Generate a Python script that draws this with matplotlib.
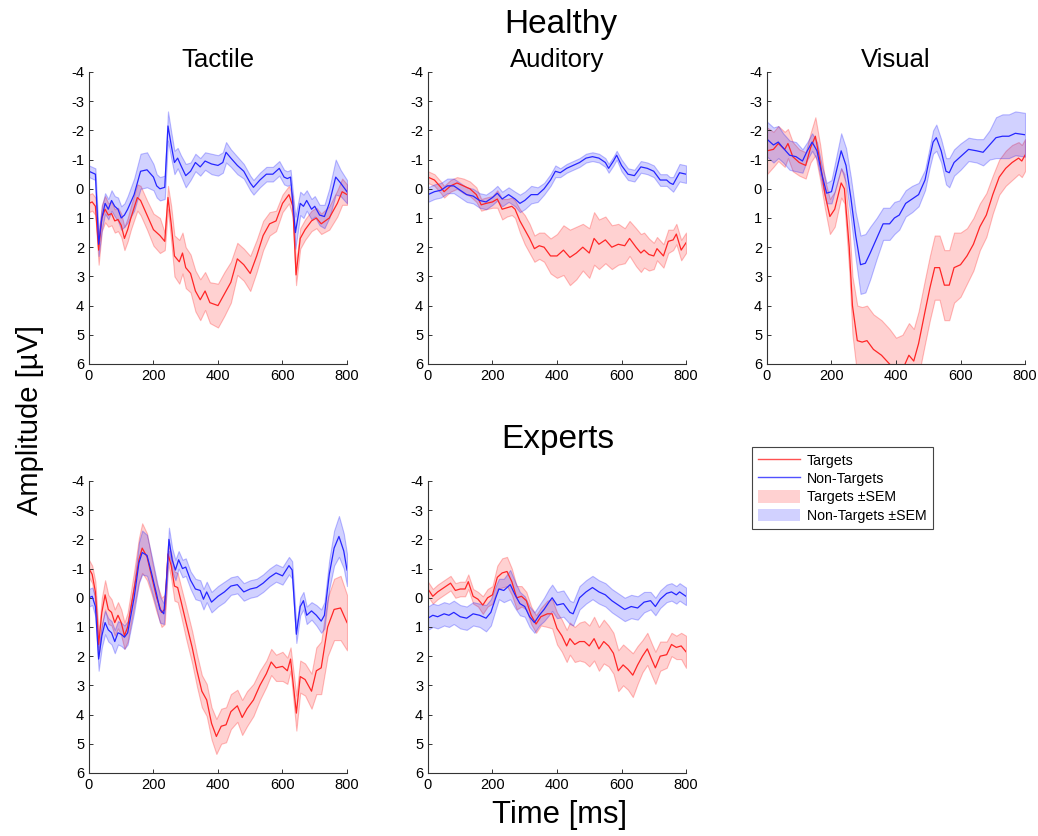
import numpy as np
import matplotlib
matplotlib.use('Agg')
import matplotlib.pyplot as plt
from matplotlib.lines import Line2D
from matplotlib.patches import Patch

plt.rcParams['font.family'] = ['Liberation Sans', 'DejaVu Sans']
plt.rcParams['axes.unicode_minus'] = False

# ---- Healthy / Tactile ----
ht_nt_t = [0, 10, 20, 30, 40, 50, 60, 70, 80, 90,
           100, 110, 120, 140, 160, 180, 200, 210, 220, 235,
           245, 255, 265, 275, 285, 300, 315, 330, 345, 360,
           380, 400, 415, 425, 440, 460, 480, 500, 510, 530,
           550, 570, 590, 605, 615, 625, 640, 655, 665, 675,
           690, 700, 715, 730, 745, 765, 780, 800]
ht_nt_m = [-0.6, -0.55, -0.5, 1.9, 1.0, 0.5, 0.7, 0.4, 0.6, 0.7,
           1.0, 0.9, 0.7, 0.2, -0.6, -0.65, -0.4, -0.1, 0.0, -0.05,
           -2.15, -1.5, -0.9, -1.05, -0.8, -0.45, -0.6, -0.9, -0.75, -0.95,
           -0.85, -0.8, -0.9, -1.25, -1.05, -0.8, -0.6, -0.2, -0.05, -0.3,
           -0.5, -0.5, -0.7, -0.4, -0.35, -0.4, 1.5, 0.5, 0.6, 0.4,
           0.7, 0.6, 0.9, 0.95, 0.5, -0.4, -0.2, 0.1]
ht_nt_s = [0.2, 0.2, 0.2, 0.4, 0.4, 0.35, 0.35, 0.35, 0.35, 0.4,
           0.4, 0.4, 0.45, 0.55, 0.6, 0.6, 0.45, 0.4, 0.4, 0.4,
           0.5, 0.45, 0.4, 0.35, 0.35, 0.4, 0.3, 0.3, 0.3, 0.3,
           0.35, 0.35, 0.35, 0.35, 0.3, 0.3, 0.25, 0.25, 0.25, 0.25,
           0.25, 0.25, 0.25, 0.25, 0.25, 0.25, 0.55, 0.4, 0.4, 0.35,
           0.35, 0.35, 0.35, 0.4, 0.5, 0.6, 0.45, 0.4]

ht_t_t = [0, 10, 20, 30, 40, 50, 60, 70, 80, 90,
          100, 110, 120, 130, 150, 160, 180, 200, 220, 235,
          245, 255, 265, 280, 290, 300, 315, 330, 345, 360,
          375, 400, 420, 440, 460, 480, 500, 520, 540, 560,
          580, 600, 620, 632, 642, 655, 670, 690, 705, 720,
          745, 770, 785, 800]
ht_t_m = [0.5, 0.45, 0.6, 2.1, 1.0, 0.7, 0.9, 0.85, 1.1, 1.05,
          1.25, 1.7, 1.4, 1.0, 0.3, 0.4, 0.9, 1.4, 1.6, 1.8,
          0.3, 1.2, 2.3, 2.5, 2.2, 2.7, 2.9, 3.5, 3.8, 3.5,
          3.9, 4.0, 3.6, 3.2, 2.4, 2.6, 2.9, 2.3, 1.6, 1.2,
          1.1, 0.5, 0.2, 0.6, 2.95, 1.7, 1.4, 1.1, 1.0, 1.2,
          1.0, 0.5, 0.1, 0.2]
ht_t_s = [0.3, 0.3, 0.3, 0.5, 0.45, 0.45, 0.4, 0.4, 0.4, 0.4,
          0.4, 0.4, 0.4, 0.4, 0.45, 0.5, 0.5, 0.55, 0.6, 0.3,
          0.4, 0.6, 0.7, 0.75, 0.7, 0.7, 0.65, 0.7, 0.7, 0.65,
          0.7, 0.75, 0.75, 0.7, 0.55, 0.55, 0.6, 0.55, 0.5, 0.4,
          0.35, 0.3, 0.3, 0.35, 0.35, 0.35, 0.35, 0.35, 0.35, 0.35,
          0.4, 0.45, 0.45, 0.35]

# ---- Healthy / Auditory ----
ha_nt_t = [0, 20, 40, 60, 80, 100, 120, 140, 160, 180,
           200, 215, 230, 250, 270, 285, 300, 320, 340, 360,
           380, 395, 410, 430, 450, 470, 490, 510, 530, 550,
           560, 575, 585, 600, 620, 640, 660, 680, 700, 720,
           740, 750, 760, 780, 800]
ha_nt_m = [0.2, 0.1, 0.05, -0.1, -0.1, 0.05, 0.2, 0.25, 0.4, 0.45,
           0.3, 0.15, 0.35, 0.2, 0.35, 0.5, 0.4, 0.2, 0.2, 0.0,
           -0.3, -0.6, -0.55, -0.7, -0.8, -0.9, -1.05, -1.1, -1.05, -0.9,
           -0.7, -0.95, -1.15, -0.8, -0.5, -0.45, -0.75, -0.7, -0.6, -0.3,
           -0.3, -0.2, -0.15, -0.55, -0.5]
ha_nt_s = [0.25, 0.25, 0.25, 0.25, 0.25, 0.25, 0.25, 0.25, 0.25, 0.25,
           0.25, 0.25, 0.25, 0.25, 0.25, 0.3, 0.3, 0.3, 0.25, 0.2,
           0.2, 0.2, 0.15, 0.15, 0.15, 0.15, 0.15, 0.15, 0.15, 0.15,
           0.15, 0.15, 0.15, 0.2, 0.2, 0.2, 0.2, 0.2, 0.2, 0.2,
           0.2, 0.2, 0.25, 0.3, 0.3]

ha_t_t = [0, 20, 40, 50, 70, 90, 110, 130, 150, 165,
          180, 200, 215, 230, 245, 260, 270, 285, 300, 315,
          330, 345, 360, 380, 400, 420, 440, 460, 480, 500,
          515, 530, 550, 570, 590, 610, 625, 645, 660, 670,
          685, 700, 710, 730, 745, 760, 770, 785, 800]
ha_t_m = [-0.4, -0.3, -0.05, 0.1, -0.1, -0.2, -0.1, 0.0, 0.2, 0.55,
          0.5, 0.45, 0.35, 0.7, 0.65, 0.6, 0.7, 1.1, 1.4, 1.7,
          2.05, 1.95, 2.0, 2.3, 2.3, 2.1, 2.35, 2.2, 2.0, 2.2,
          1.7, 1.9, 1.75, 2.0, 1.9, 1.95, 1.7, 2.0, 2.2, 2.1,
          2.25, 2.3, 2.05, 2.3, 1.8, 1.75, 1.55, 2.1, 1.85]
ha_t_s = [0.2, 0.2, 0.2, 0.2, 0.2, 0.2, 0.25, 0.25, 0.25, 0.2,
          0.2, 0.2, 0.3, 0.35, 0.3, 0.3, 0.3, 0.4, 0.5, 0.5,
          0.45, 0.45, 0.5, 0.6, 0.75, 0.85, 0.95, 0.9, 0.8, 0.85,
          0.9, 0.85, 0.8, 0.75, 0.7, 0.6, 0.6, 0.65, 0.65, 0.6,
          0.55, 0.45, 0.4, 0.4, 0.4, 0.35, 0.35, 0.35, 0.35]

# ---- Healthy / Visual ----
hv_nt_t = [0, 20, 35, 50, 70, 90, 110, 125, 140, 155,
           170, 185, 200, 215, 230, 245, 260, 275, 290, 305,
           320, 340, 360, 380, 395, 410, 430, 450, 470, 490,
           505, 515, 525, 540, 555, 565, 580, 600, 625, 650,
           670, 690, 710, 730, 750, 770, 800]
hv_nt_m = [-1.7, -1.5, -1.6, -1.4, -1.15, -1.1, -0.95, -1.3, -1.6, -1.3,
           -0.5, 0.15, 0.1, -0.6, -1.3, -0.8, 0.3, 1.6, 2.6, 2.55,
           2.2, 1.7, 1.2, 1.2, 1.0, 0.9, 0.5, 0.35, 0.2, -0.3,
           -1.1, -1.6, -1.75, -1.3, -0.6, -0.55, -0.9, -1.1, -1.35, -1.3,
           -1.25, -1.5, -1.75, -1.8, -1.8, -1.9, -1.85]
hv_nt_s = [0.6, 0.6, 0.55, 0.5, 0.5, 0.5, 0.4, 0.3, 0.3, 0.3,
           0.3, 0.35, 0.4, 0.5, 0.6, 0.6, 0.7, 0.8, 1.0, 1.0,
           0.9, 0.7, 0.55, 0.55, 0.55, 0.5, 0.45, 0.45, 0.4, 0.35,
           0.35, 0.4, 0.45, 0.4, 0.45, 0.5, 0.45, 0.45, 0.4, 0.4,
           0.45, 0.5, 0.7, 0.75, 0.75, 0.75, 0.75]

hv_t_t = [0, 20, 35, 55, 65, 80, 100, 120, 135, 150,
          165, 180, 195, 210, 230, 240, 255, 265, 280, 295,
          310, 330, 355, 380, 400, 420, 440, 455, 470, 490,
          505, 520, 535, 550, 565, 580, 600, 620, 640, 660,
          680, 700, 720, 740, 760, 780, 790, 800]
hv_t_m = [-1.3, -1.35, -1.55, -1.35, -1.55, -1.1, -0.9, -0.8, -1.4, -1.8,
          -0.9, 0.2, 0.95, 0.7, -0.2, 0.0, 2.0, 4.0, 5.2, 5.25,
          5.2, 5.5, 5.7, 6.0, 6.3, 6.2, 5.7, 5.9, 5.3, 4.2,
          3.4, 2.7, 2.7, 3.3, 3.3, 2.7, 2.6, 2.3, 1.9, 1.3,
          0.9, 0.2, -0.4, -0.7, -0.9, -1.05, -0.95, -1.15]
hv_t_s = [0.8, 0.6, 0.6, 0.6, 0.5, 0.5, 0.45, 0.45, 0.5, 0.65,
          0.6, 0.5, 0.6, 0.6, 0.5, 0.5, 0.8, 1.0, 1.2, 1.2,
          1.2, 1.2, 1.2, 1.2, 1.2, 1.2, 1.1, 1.1, 1.1, 1.1,
          1.1, 1.1, 1.1, 1.2, 1.2, 1.2, 1.1, 0.95, 0.9, 0.8,
          0.75, 0.65, 0.6, 0.6, 0.6, 0.55, 0.55, 0.55]

# ---- Experts / Tactile ----
et_nt_t = [0, 10, 20, 30, 40, 50, 60, 70, 80, 90,
           100, 110, 120, 140, 155, 165, 180, 195, 210, 220,
           232, 240, 248, 258, 268, 278, 290, 300, 315, 330,
           345, 355, 365, 380, 400, 420, 440, 460, 480, 500,
           520, 540, 560, 580, 600, 620, 630, 643, 655, 665,
           675, 690, 705, 720, 730, 745, 760, 775, 790, 800]
et_nt_m = [0.0, -0.05, 0.3, 2.1, 1.3, 0.85, 1.1, 1.2, 1.5, 1.2,
           1.25, 1.35, 1.2, 0.0, -1.2, -1.55, -1.45, -0.8, -0.1, 0.4,
           0.55, -0.5, -2.0, -1.3, -0.95, -1.3, -1.0, -1.05, -0.6, -0.3,
           -0.25, 0.05, -0.2, 0.15, -0.05, -0.2, -0.4, -0.45, -0.2, -0.3,
           -0.35, -0.5, -0.7, -0.85, -0.75, -1.1, -0.95, 1.25, 0.3, 0.1,
           0.6, 0.45, 0.6, 0.8, 0.6, -0.8, -1.7, -2.1, -1.6, -0.95]
et_nt_s = [0.3, 0.3, 0.35, 0.4, 0.4, 0.4, 0.4, 0.4, 0.4, 0.4,
           0.4, 0.4, 0.4, 0.5, 0.7, 0.75, 0.7, 0.6, 0.5, 0.45,
           0.35, 0.35, 0.4, 0.4, 0.35, 0.3, 0.3, 0.3, 0.3, 0.35,
           0.35, 0.35, 0.35, 0.35, 0.35, 0.35, 0.3, 0.3, 0.3, 0.3,
           0.3, 0.3, 0.3, 0.3, 0.3, 0.3, 0.3, 0.3, 0.3, 0.3,
           0.3, 0.3, 0.35, 0.4, 0.45, 0.5, 0.6, 0.7, 0.6, 0.55]

et_t_t = [0, 10, 20, 30, 40, 50, 60, 70, 80, 90,
          100, 110, 120, 140, 155, 165, 180, 195, 210, 225,
          235, 245, 255, 265, 275, 285, 300, 320, 335, 350,
          365, 380, 395, 410, 425, 440, 460, 475, 490, 510,
          530, 550, 565, 580, 600, 615, 625, 643, 655, 670,
          690, 705, 720, 740, 760, 780, 800]
et_t_m = [-1.0, -0.8, -0.2, 1.6, 0.5, -0.1, 0.4, 0.5, 0.85, 0.6,
          0.85, 1.3, 1.0, -0.3, -1.3, -1.7, -1.4, -0.7, 0.0, 0.5,
          0.4, -1.5, -1.1, -0.4, -0.35, 0.1, 0.8, 1.7, 2.5, 3.2,
          3.5, 4.3, 4.75, 4.4, 4.35, 3.9, 3.7, 4.1, 3.8, 3.5,
          3.0, 2.6, 2.2, 2.4, 2.35, 2.5, 2.1, 3.95, 2.7, 2.8,
          3.2, 2.5, 2.4, 1.0, 0.4, 0.35, 0.85]
et_t_s = [0.3, 0.3, 0.35, 0.4, 0.5, 0.5, 0.5, 0.45, 0.45, 0.45,
          0.45, 0.45, 0.5, 0.6, 0.75, 0.85, 0.8, 0.6, 0.5, 0.5,
          0.5, 0.3, 0.45, 0.5, 0.5, 0.5, 0.55, 0.55, 0.55, 0.55,
          0.55, 0.55, 0.6, 0.6, 0.6, 0.6, 0.55, 0.6, 0.6, 0.55,
          0.5, 0.45, 0.45, 0.45, 0.5, 0.45, 0.4, 0.6, 0.55, 0.55,
          0.6, 0.8, 0.9, 1.0, 1.05, 1.1, 0.95]

# ---- Experts / Auditory ----
ea_nt_t = [0, 15, 30, 50, 65, 80, 100, 120, 140, 160,
           180, 195, 210, 220, 235, 255, 270, 285, 300, 315,
           330, 345, 360, 375, 385, 400, 420, 440, 450, 470,
           490, 510, 530, 550, 570, 590, 610, 630, 650, 670,
           690, 705, 720, 740, 755, 770, 780, 800]
ea_nt_m = [0.7, 0.6, 0.65, 0.55, 0.6, 0.5, 0.65, 0.7, 0.55, 0.6,
           0.7, 0.5, 0.0, -0.3, -0.25, -0.45, -0.1, 0.2, 0.3, 0.65,
           0.85, 0.6, 0.4, 0.15, 0.0, 0.25, 0.2, 0.5, 0.55, 0.0,
           -0.2, -0.35, -0.2, -0.1, 0.1, 0.25, 0.4, 0.3, 0.35, 0.15,
           0.1, 0.3, 0.05, -0.15, -0.2, -0.1, -0.2, -0.05]
ea_nt_s = [0.4, 0.4, 0.4, 0.4, 0.4, 0.4, 0.4, 0.4, 0.4, 0.4,
           0.45, 0.45, 0.4, 0.35, 0.4, 0.5, 0.45, 0.4, 0.35, 0.35,
           0.35, 0.35, 0.4, 0.45, 0.45, 0.45, 0.45, 0.4, 0.4, 0.4,
           0.4, 0.4, 0.4, 0.4, 0.4, 0.4, 0.4, 0.4, 0.4, 0.35,
           0.3, 0.3, 0.3, 0.3, 0.3, 0.3, 0.3, 0.3]

ea_t_t = [0, 15, 30, 50, 70, 85, 100, 115, 125, 140,
          155, 170, 185, 200, 215, 230, 245, 260, 275, 290,
          305, 320, 335, 350, 370, 385, 400, 415, 430, 440,
          455, 470, 485, 500, 515, 530, 545, 560, 575, 590,
          605, 620, 635, 650, 665, 680, 695, 705, 720, 740,
          755, 770, 785, 800]
ea_t_m = [-0.3, -0.05, -0.2, -0.35, -0.5, -0.25, -0.3, -0.3, -0.55, -0.05,
          0.05, 0.25, 0.0, -0.1, -0.7, -0.85, -0.9, -0.55, 0.0, -0.05,
          0.1, 0.6, 0.9, 0.65, 0.55, 0.55, 1.05, 1.3, 1.65, 1.4,
          1.6, 1.5, 1.5, 1.65, 1.4, 1.75, 1.5, 1.65, 1.9, 2.5,
          2.3, 2.45, 2.65, 2.3, 2.0, 1.75, 2.15, 2.4, 2.0, 1.95,
          1.6, 1.7, 1.65, 1.85]
ea_t_s = [0.25, 0.25, 0.25, 0.25, 0.25, 0.25, 0.25, 0.25, 0.25, 0.25,
          0.25, 0.3, 0.3, 0.3, 0.4, 0.5, 0.5, 0.45, 0.4, 0.35,
          0.3, 0.3, 0.3, 0.3, 0.45, 0.5, 0.55, 0.55, 0.55, 0.55,
          0.6, 0.65, 0.7, 0.7, 0.75, 0.75, 0.75, 0.7, 0.7, 0.7,
          0.7, 0.7, 0.75, 0.65, 0.55, 0.55, 0.55, 0.55, 0.5, 0.45,
          0.4, 0.4, 0.45, 0.55]

RED = (1.0, 0.15, 0.15)
BLUE = (0.15, 0.15, 1.0)
RED_FILL = (1.0, 0.0, 0.0, 0.18)
BLUE_FILL = (0.0, 0.0, 1.0, 0.18)
RED_EDGE = (1.0, 0.0, 0.0, 0.25)
BLUE_EDGE = (0.0, 0.0, 1.0, 0.25)

fig = plt.figure(figsize=(10.38, 8.36), dpi=100)

# axes rectangles in figure fractions
cols = [0.0857, 0.4123, 0.7389]
w, h = 0.2486, 0.3493
rows = [0.5646, 0.0754]


def erp_panel(ax, tt, tm, ts, nt, nm, ns, title=None):
    tt, tm, ts = np.array(tt), np.array(tm), np.array(ts)
    nt, nm, ns = np.array(nt), np.array(nm), np.array(ns)
    ax.fill_between(tt, tm - ts, tm + ts, facecolor=RED_FILL,
                    edgecolor=RED_EDGE, lw=0.8)
    ax.fill_between(nt, nm - ns, nm + ns, facecolor=BLUE_FILL,
                    edgecolor=BLUE_EDGE, lw=0.8)
    ax.plot(tt, tm, color=RED, lw=0.9)
    ax.plot(nt, nm, color=BLUE, lw=0.9)
    ax.set_xlim(0, 800)
    ax.set_ylim(6, -4)
    ax.set_xticks([0, 200, 400, 600, 800])
    ax.set_yticks(range(-4, 7))
    ax.spines['top'].set_visible(False)
    ax.spines['right'].set_visible(False)
    for s in ('left', 'bottom'):
        ax.spines[s].set_linewidth(0.8)
        ax.spines[s].set_color('#333333')
    ax.tick_params(direction='in', length=3, width=0.7, labelsize=10.5,
                   colors='#333333', labelcolor='black')
    if title:
        ax.set_title(title, fontsize=18.5, pad=3.5)


ax1 = fig.add_axes([cols[0], rows[0], w, h])
erp_panel(ax1, ht_t_t, ht_t_m, ht_t_s, ht_nt_t, ht_nt_m, ht_nt_s, 'Tactile')
ax2 = fig.add_axes([cols[1], rows[0], w, h])
erp_panel(ax2, ha_t_t, ha_t_m, ha_t_s, ha_nt_t, ha_nt_m, ha_nt_s, 'Auditory')
ax3 = fig.add_axes([cols[2], rows[0], w, h])
erp_panel(ax3, hv_t_t, hv_t_m, hv_t_s, hv_nt_t, hv_nt_m, hv_nt_s, 'Visual')
ax4 = fig.add_axes([cols[0], rows[1], w, h])
erp_panel(ax4, et_t_t, et_t_m, et_t_s, et_nt_t, et_nt_m, et_nt_s)
ax5 = fig.add_axes([cols[1], rows[1], w, h])
erp_panel(ax5, ea_t_t, ea_t_m, ea_t_s, ea_nt_t, ea_nt_m, ea_nt_s)

fig.text(0.5405, 0.9605, 'Healthy', fontsize=24, ha='center', va='baseline')
fig.text(0.5376, 0.4641, 'Experts', fontsize=24, ha='center', va='baseline')
fig.text(0.029, 0.498, 'Amplitude [µV]', fontsize=21, rotation=90,
         ha='center', va='center')
fig.text(0.5395, 0.0156, 'Time [ms]', fontsize=22.3, ha='center',
         va='baseline')

handles = [Line2D([], [], color=RED, lw=1.0, alpha=0.8),
           Line2D([], [], color=BLUE, lw=1.0, alpha=0.8),
           Patch(facecolor=RED_FILL, edgecolor='none'),
           Patch(facecolor=BLUE_FILL, edgecolor='none')]
labels = ['Targets', 'Non-Targets', 'Targets ±SEM', 'Non-Targets ±SEM']
leg = fig.legend(handles, labels, loc='upper left',
                 bbox_to_anchor=(0.7245, 0.4653), borderaxespad=0,
                 fontsize=10.2, handlelength=2.95, handleheight=1.0,
                 fancybox=False, framealpha=1, edgecolor='#444444',
                 borderpad=0.45, labelspacing=0.3, handletextpad=0.45)
leg.get_frame().set_linewidth(0.8)

fig.savefig('out.png', dpi=100)
